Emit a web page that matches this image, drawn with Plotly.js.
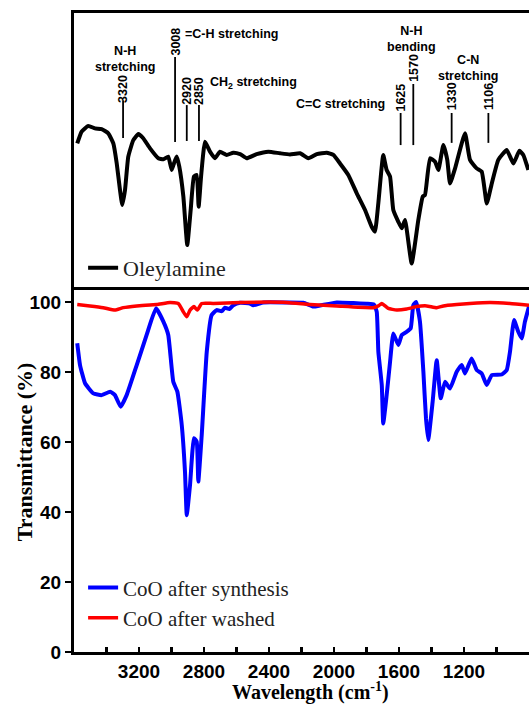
<!DOCTYPE html>
<html>
<head>
<meta charset="utf-8">
<script src="https://cdn.plot.ly/plotly-3.0.1.min.js"></script>
<style>html,body{margin:0;padding:0;background:#fff;}#chart{width:529px;height:706px;}</style>
</head>
<body>
<div id="chart"></div>
<script>
// ---- Data ----
// Oleylamine (top panel, arbitrary transmittance units)
const oleyWavenumber = [3580,3553,3512,3471,3430,3389,3358,3337,3317,3303,3286,3266,3235,3204,3174,3132,3081,3050,3020,2999,2985,2968,2952,2927,2903,2882,2862,2845,2833,2818,2794,2763,2732,2702,2660,2620,2578,2537,2476,2404,2332,2271,2209,2158,2106,2045,2004,1963,1912,1860,1809,1768,1748,1727,1697,1676,1655,1635,1604,1583,1563,1522,1481,1454,1440,1409,1378,1358,1327,1303,1286,1255,1194,1163,1122,1091,1060,1029,989,937,896,859,835,804];
const oleyValue = [52.4,56.7,58.8,57.9,57.6,56.1,52.4,45.1,35.4,29.9,35.4,47.6,53.6,55.8,54.3,50.6,47.0,46.6,47.6,42.7,45.1,47.6,43.9,33.0,15.3,28.1,40.3,40.9,29.3,40.3,53.0,49.4,47.0,49.4,48.2,49.0,48.5,47.0,48.5,49.4,48.8,48.4,48.8,47.0,48.5,49.0,48.2,45.1,40.9,34.2,28.1,22.0,20.2,30.7,48.2,42.7,40.3,28.1,23.8,21.4,24.5,8.6,24.5,33.0,33.6,47.0,45.7,42.7,51.8,46.4,37.8,43.3,56.1,46.4,43.3,42.1,30.5,37.8,46.4,50.0,45.1,49.7,48.2,42.7];

// CoO after synthesis (bottom panel)
const synthWavenumber = [3580,3563,3532,3481,3430,3378,3348,3313,3276,3214,3153,3095,3050,3020,2989,2964,2937,2917,2906,2886,2862,2845,2835,2814,2783,2753,2722,2691,2671,2644,2620,2578,2517,2497,2435,2291,2189,2127,2086,1983,1881,1799,1754,1737,1727,1706,1697,1676,1655,1635,1604,1583,1553,1528,1512,1495,1471,1450,1434,1420,1393,1368,1343,1317,1286,1245,1214,1194,1153,1122,1091,1060,1029,968,937,917,892,866,845,825,800];
const synthValue = [88.2,82.0,76.8,73.9,73.4,74.4,73.4,70.1,73.4,82.0,90.6,98.2,94.4,90.6,77.2,74.4,64.9,51.5,39.1,47.7,61.1,60.1,48.7,62.0,85.8,96.3,97.7,97.4,98.4,98.0,99.1,99.8,99.6,99.1,99.9,99.9,99.8,98.7,99.0,99.9,99.7,99.5,99.3,97.2,85.8,76.3,65.3,73.4,82.9,91.0,87.7,90.6,91.5,92.5,99.1,100.0,94.4,80.1,66.8,60.6,71.5,83.4,72.5,77.2,75.3,80.1,82.0,79.6,83.9,80.6,79.6,76.3,79.1,79.3,80.6,85.8,94.9,91.5,89.6,94.4,98.7];

// CoO after washed (bottom panel)
const washedWavenumber = [3580,3502,3420,3348,3297,3214,3091,3009,2958,2927,2906,2886,2862,2841,2814,2743,2578,2291,2148,1983,1758,1727,1706,1666,1614,1553,1491,1430,1368,1327,1245,1164,1040,917,800];
const washedValue = [99.3,98.9,98.4,97.7,98.4,98.9,99.3,99.9,99.6,97.2,95.8,97.7,98.7,97.7,99.6,99.6,99.9,99.9,99.3,98.9,98.4,98.9,99.6,98.2,97.7,98.0,98.7,98.9,98.4,98.9,99.3,99.6,99.9,99.6,99.1];

// Axis tick labels
const xTickValues = [3400,3200,3000,2800,2600,2400,2200,2000,1800,1600,1400,1200,1000];
const xTickLabels = [' ','3200',' ','2800',' ','2400',' ','2000',' ','1600',' ','1200',' '];
const yTickValues = [0,20,40,60,80,100];

// Series names and peak labels
const seriesNames = ['Oleylamine','CoO after synthesis','CoO after washed'];
const peakLabels = ['3320','3008','2920','2850','1625','1570','1330','1106'];
const groupLabels = ['N-H<br>stretching','=C-H stretching','CH<sub>2</sub> stretching','C=C stretching','N-H<br>bending','C-N<br>stretching'];

// ---- Layout helpers (positions/styles) ----
const peakPos = [ // x (cm-1), label center y, line top y, line bottom y (top panel units)
  [3298,72.3,68.2,54.4],
  [2978,89.6,83.9,52.9],
  [2906,71.5,66.4,53.3],
  [2831,71.5,66.4,53.3],
  [1590,69.0,63.5,51.8],
  [1512,80.1,74.1,51.8],
  [1276,69.5,63.5,52.6],
  [1050,69.5,63.5,52.6]
];
const groupPos = [ // x, y, xanchor
  [3286,83.2,'center'],
  [2929,92.3,'left'],
  [2775,74.5,'left'],
  [1674,66.8,'right'],
  [1522,90.5,'center'],
  [1175,79.9,'center']
];

const annFont = {family:'Liberation Sans, Arial, sans-serif', size:12.5, color:'#000', weight:700};
const annotations = [];
const shapes = [];
peakLabels.forEach((t,i)=>{
  const p = peakPos[i];
  annotations.push({xref:'x2', yref:'y2', x:p[0], y:p[1], text:t, textangle:-90, showarrow:false, font:annFont, xanchor:'center', yanchor:'middle'});
  shapes.push({type:'line', xref:'x2', yref:'y2', x0:p[0], x1:p[0], y0:p[3], y1:p[2], line:{color:'#000', width:1.8}});
});
groupLabels.forEach((t,i)=>{
  const g = groupPos[i];
  annotations.push({xref:'x2', yref:'y2', x:g[0], y:g[1], text:t, showarrow:false, font:annFont, xanchor:g[2], yanchor:'middle', align:'center'});
});
// y-axis title
annotations.push({xref:'paper', yref:'paper', x:-0.107, y:0.313, text:'<b>Transmittance (%)</b>', textangle:-90, showarrow:false,
  font:{family:'Liberation Serif, Times New Roman, serif', size:22, color:'#000'}, xanchor:'center', yanchor:'middle'});
// x-axis title
annotations.push({xref:'paper', yref:'paper', x:0.52, y:-0.0825, text:'<b>Wavelength (cm<sup>-1</sup>)</b>', showarrow:false,
  font:{family:'Liberation Serif, Times New Roman, serif', size:20, color:'#000'}, xanchor:'center', yanchor:'bottom', borderpad:0});

const traces = [
  {x:oleyWavenumber, y:oleyValue, name:seriesNames[0], type:'scatter', mode:'lines', xaxis:'x2', yaxis:'y2',
   line:{color:'#000000', width:4, shape:'spline', smoothing:0.4}, legend:'legend'},
  {x:synthWavenumber, y:synthValue, name:seriesNames[1], type:'scatter', mode:'lines', xaxis:'x', yaxis:'y',
   line:{color:'#0000ff', width:4, shape:'spline', smoothing:0.4}, legend:'legend2'},
  {x:washedWavenumber, y:washedValue, name:seriesNames[2], type:'scatter', mode:'lines', xaxis:'x', yaxis:'y',
   line:{color:'#ff0000', width:3.5, shape:'spline', smoothing:0.4}, legend:'legend2'}
];

const tickFont = {family:'Liberation Sans, Arial, sans-serif', size:19, color:'#000', weight:700};
const split = 0.5712;
const layout = {
  width:529, height:706,
  margin:{l:74, r:0, t:13, b:54},
  paper_bgcolor:'#fff', plot_bgcolor:'#fff',
  showlegend:true,
  xaxis:{range:[3600,800], domain:[0,1], anchor:'y', showline:true, linecolor:'#000', linewidth:3,
    tickvals:xTickValues, ticktext:xTickLabels, ticks:'inside', ticklen:5, tickwidth:2.5, tickcolor:'#000',
    tickfont:tickFont, showgrid:false, zeroline:false},
  yaxis:{range:[0,104.3], domain:[0,split], anchor:'x', showline:true, linecolor:'#000', linewidth:3,
    tickvals:yTickValues, ticks:'outside', ticklen:6, tickwidth:2.5, tickcolor:'#000',
    tickfont:tickFont, showgrid:false, zeroline:false},
  xaxis2:{range:[3600,800], domain:[0,1], anchor:'y2', showline:true, mirror:true, linecolor:'#000', linewidth:3,
    showticklabels:false, ticks:'', showgrid:false, zeroline:false},
  yaxis2:{range:[0,100], domain:[split,1], anchor:'x2', showline:true, linecolor:'#000', linewidth:3,
    showticklabels:false, ticks:'', showgrid:false, zeroline:false},
  legend:{x:0.02, y:0.601, xanchor:'left', yanchor:'middle', bgcolor:'rgba(0,0,0,0)',
    font:{family:'Liberation Serif, Times New Roman, serif', size:22, color:'#222'}},
  legend2:{x:0.02, y:0.077, xanchor:'left', yanchor:'middle', bgcolor:'rgba(0,0,0,0)', tracegroupgap:0,
    font:{family:'Liberation Serif, Times New Roman, serif', size:21, color:'#222'}},
  annotations:annotations,
  shapes:shapes
};

Plotly.newPlot('chart', traces, layout, {staticPlot:true, displayModeBar:false});
</script>
</body>
</html>
